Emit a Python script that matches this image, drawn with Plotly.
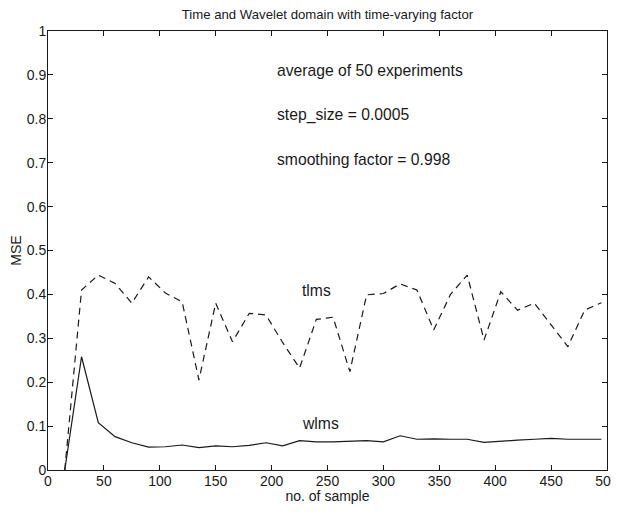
import plotly.graph_objects as go

samples = [15, 30, 45, 60, 75, 90, 105, 120, 135, 150, 165, 180, 195, 210, 225, 240,
           255, 270, 285, 300, 315, 330, 345, 360, 375, 390, 405, 420, 435, 450, 465, 480, 495]

tlms = [0.0, 0.41, 0.444, 0.425, 0.38, 0.44, 0.403, 0.383, 0.205, 0.38, 0.292, 0.357,
        0.353, 0.29, 0.232, 0.343, 0.348, 0.224, 0.399, 0.402, 0.424, 0.41, 0.319, 0.40,
        0.444, 0.296, 0.406, 0.364, 0.38, 0.33, 0.281, 0.364, 0.381]

wlms = [0.0, 0.258, 0.108, 0.076, 0.062, 0.052, 0.053, 0.057, 0.051, 0.055, 0.053, 0.056,
        0.062, 0.055, 0.067, 0.064, 0.064, 0.065, 0.067, 0.064, 0.078, 0.070, 0.071, 0.070,
        0.070, 0.063, 0.066, 0.068, 0.070, 0.072, 0.070, 0.070, 0.070]

x_ticks = [0, 50, 100, 150, 200, 250, 300, 350, 400, 450, 500]
y_ticks = [0, 0.1, 0.2, 0.3, 0.4, 0.5, 0.6, 0.7, 0.8, 0.9, 1]
y_tick_labels = ["0", "0.1", "0.2", "0.3", "0.4", "0.5", "0.6", "0.7", "0.8", "0.9", "1"]

title = "Time and Wavelet domain with time-varying factor"
notes = [
    (203, 0.909, "average of 50 experiments"),
    (203, 0.809, "step_size = 0.0005"),
    (203, 0.708, "smoothing factor = 0.998"),
    (225, 0.41, "tlms"),
    (225, 0.107, "wlms"),
]

FONT = "Liberation Sans, Arial, sans-serif"
INK = "#1a1a1a"

fig = go.Figure()
fig.add_trace(go.Scatter(x=samples, y=tlms, mode="lines", name="tlms",
                         line=dict(color=INK, width=1.2, dash="7px,5px")))
fig.add_trace(go.Scatter(x=samples, y=wlms, mode="lines", name="wlms",
                         line=dict(color=INK, width=1.2)))

for x, y, t in notes:
    fig.add_annotation(x=x, y=y, text=t, showarrow=False, xanchor="left", yanchor="middle",
                       font=dict(family=FONT, size=15.7, color=INK))

axis_common = dict(showline=True, linecolor=INK, linewidth=1, mirror="ticks",
                   ticks="inside", ticklen=5, tickcolor=INK, showgrid=False,
                   zeroline=False, automargin=False,
                   tickfont=dict(family=FONT, size=14, color=INK))

# page body has an 8px margin; the figure is offset by it (the right edge runs past the window)
fig.update_layout(
    width=619, height=496,
    margin=dict(l=40, r=20, t=23, b=34),
    paper_bgcolor="white", plot_bgcolor="white",
    showlegend=False,
    title=dict(text=title, x=0.516, xanchor="center", yref="container",
               y=1 - 6 / 496, yanchor="middle",
               font=dict(family=FONT, size=13.2, color=INK)),
    xaxis=dict(range=[0, 500], tickvals=x_ticks, ticklabelstandoff=-2,
               title=dict(text="no. of sample", standoff=0,
                          font=dict(family=FONT, size=14, color=INK)),
               **axis_common),
    yaxis=dict(range=[0, 1], tickvals=y_ticks, ticktext=y_tick_labels,
               ticklabelstandoff=-2,
               title=dict(text="MSE", standoff=3,
                          font=dict(family=FONT, size=14, color=INK)),
               **axis_common),
)

fig.write_html("out.html")
